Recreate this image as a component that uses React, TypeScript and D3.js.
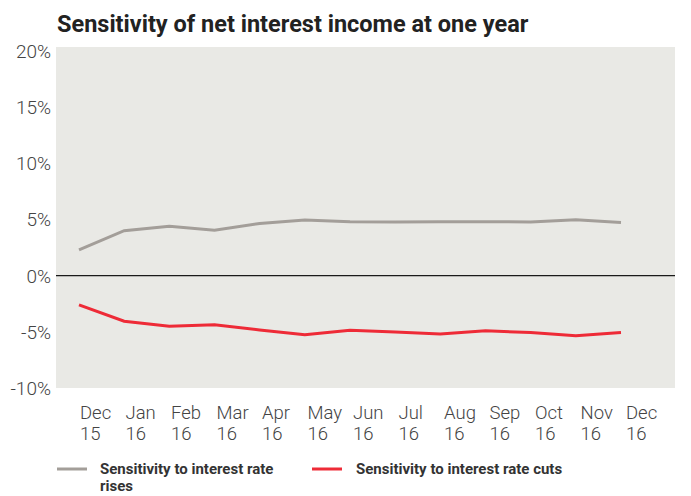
import React from "react";
import * as d3 from "d3";

const months = ["Dec 15","Jan 16","Feb 16","Mar 16","Apr 16","May 16","Jun 16","Jul 16","Aug 16","Sep 16","Oct 16","Nov 16","Dec 16"];
const risesValues = [2.3, 4.0, 4.4, 4.05, 4.65, 4.95, 4.8, 4.77, 4.8, 4.8, 4.78, 4.97, 4.74];
const cutsValues = [-2.6, -4.06, -4.5, -4.36, -4.83, -5.25, -4.86, -5.02, -5.19, -4.9, -5.07, -5.34, -5.07];
const yTicks = [20, 15, 10, 5, 0, -5, -10];
const seriesNames = ["Sensitivity to interest rate rises", "Sensitivity to interest rate cuts"];
const title = "Sensitivity of net interest income at one year";

const W = 691, H = 496;
const GREY = "#a39e99";
const RED = "#ee2b37";

export default function App() {
  const y = d3.scaleLinear().domain([-10, 20]).range([388, 51]);
  const x = d3.scalePoint<string>().domain(months).range([79, 621]);
  const xl = d3.scalePoint<string>().domain(months).range([80, 626]);
  const line = d3.line<number>().x((_, i) => x(months[i])!).y((d) => y(d));
  const plotL = 56, plotR = 675;
  const labelFont = "Roboto, 'Liberation Sans', sans-serif";
  return (
    <svg width={W} height={H} style={{ position: "absolute", left: 0, top: 0, background: "#fff" }}>
      <text x={57} y={32} fontFamily={labelFont} fontWeight={700} fontSize={23.5} fill="#222">{title}</text>
      <rect x={plotL} y={y(20) - 4} width={plotR - plotL} height={y(-10) - y(20) + 4} fill="#e9e9e5" />
      {yTicks.map((t) => (
        <text key={t} x={51} y={y(t)} dy="0.36em" textAnchor="end" fontFamily={labelFont} fontWeight={300} fontSize={19} fill="#444">{`${t}%`}</text>
      ))}
      <line x1={plotL} x2={plotR} y1={y(0)} y2={y(0)} stroke="#1a1a1a" strokeWidth={1.3} />
      <path d={line(risesValues) || ""} fill="none" stroke={GREY} strokeWidth={3} />
      <path d={line(cutsValues) || ""} fill="none" stroke={RED} strokeWidth={3} />
      {months.map((m) => {
        const [a, b] = m.split(" ");
        return (
          <g key={m} fontFamily={labelFont} fontWeight={300} fontSize={18.5} fill="#444">
            <text x={xl(m)} y={419}>{a}</text>
            <text x={xl(m)} y={440}>{b}</text>
          </g>
        );
      })}
      <line x1={57} x2={87} y1={469} y2={469} stroke={GREY} strokeWidth={3} />
      <g fontFamily={labelFont} fontWeight={700} fontSize={15} fill="#333">
        <text x={100} y={474}>Sensitivity to interest rate</text>
        <text x={100} y={491}>rises</text>
      </g>
      <line x1={312} x2={342} y1={469} y2={469} stroke={RED} strokeWidth={3} />
      <text x={356} y={474} fontFamily={labelFont} fontWeight={700} fontSize={15} fill="#333">{seriesNames[1]}</text>
    </svg>
  );
}
